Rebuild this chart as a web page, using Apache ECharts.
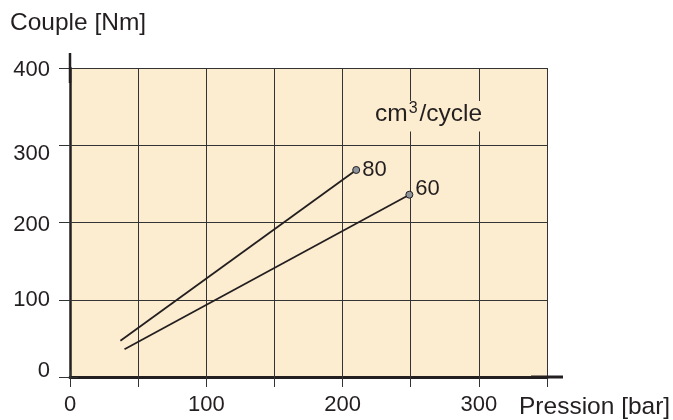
<!DOCTYPE html>
<html><head><meta charset="utf-8">
<script src="https://cdn.jsdelivr.net/npm/echarts@6/dist/echarts.min.js"></script>
<style>html,body{margin:0;padding:0;background:#fff}#c{width:673px;height:420px}</style>
</head>
<body><div id="c"></div>
<script>
// ---- data ----
const xLabels = [0, 100, 200, 300];
const yLabels = [0, 100, 200, 300, 400];
const line80 = [[37, 47], [210, 268]];
const line60 = [[40, 36], [249, 236]];
const lineNames = ['80', '60'];
const unitBase = 'cm';
const unitSup = '3';
const unitTail = '/cycle';
const xTitle = 'Pression [bar]';
const yTitle = 'Couple [Nm]';

// ---- style ----
const INK = '#231f20';
const GRIDC = '#333333';
const FILL = '#fdedd0';
const FONT = 'Liberation Sans';
const FS = 22;
const TFS = 24.5;
const yLabelShift = {0: -6, 100: 0, 200: 2, 300: 9, 400: 2};

const rich = {};
yLabels.forEach(v => {
  const s = yLabelShift[v] || 0;
  rich['s' + v] = {
    fontFamily: FONT, fontSize: FS, color: INK,
    padding: s >= 0 ? [2 * s, 0, 0, 0] : [0, 0, -2 * s, 0]
  };
});

function mkSeries(name, pts, labelOffset) {
  return {
    type: 'line', name: name,
    data: pts.map((p, i) => i === pts.length - 1
      ? {value: p, symbol: 'circle', symbolSize: 7,
         label: {show: true, formatter: name, position: 'right', distance: 2, offset: labelOffset,
                 fontFamily: FONT, fontSize: FS, color: INK}}
      : {value: p, symbol: 'none'}),
    showSymbol: true,
    lineStyle: {color: INK, width: 1.8},
    itemStyle: {color: '#8e949c', borderColor: INK, borderWidth: 1},
    z: 5, silent: true, animation: false
  };
}

const chart = echarts.init(document.getElementById('c'), null, {renderer: 'canvas'});
chart.setOption({
  animation: false,
  backgroundColor: '#ffffff',
  title: [
    {text: yTitle, left: 10, top: 11, padding: 0,
     textStyle: {fontFamily: FONT, fontSize: TFS, fontWeight: 'normal', color: INK}},
    {text: xTitle, left: 519, top: 395, padding: 0,
     textStyle: {fontFamily: FONT, fontSize: TFS, fontWeight: 'normal', color: INK}},
    {text: '{b|' + unitBase + '}{u|' + unitSup + '}{b|' + unitTail + '}', left: 369, top: 101, padding: [0, 6, 5, 6],
     backgroundColor: FILL,
     textStyle: {fontFamily: FONT, fontSize: TFS, fontWeight: 'normal', color: INK,
       rich: {
         b: {fontFamily: FONT, fontSize: TFS, color: INK, lineHeight: 26},
         u: {fontFamily: FONT, fontSize: 16, color: INK, verticalAlign: 'top', lineHeight: 12, padding: [0, 2, 0, 1]}
       }}}
  ],
  grid: {left: 70, right: 126, top: 68, bottom: 43, show: true, backgroundColor: FILL, borderWidth: 0},
  xAxis: [
    {type: 'value', min: 0, max: 350, interval: 50, position: 'bottom',
     axisLine: {show: true, lineStyle: {color: INK, width: 3}, symbol: ['none', 'rect'], symbolSize: [3, 32]},
     axisTick: {show: true, length: 10, lineStyle: {color: GRIDC, width: 1}},
     axisLabel: {margin: 17, fontFamily: FONT, fontSize: FS, color: INK,
                 formatter: v => xLabels.indexOf(v) >= 0 ? String(v) : ''},
     splitLine: {show: true, lineStyle: {color: GRIDC, width: 1}}},
    {type: 'value', min: 0, max: 350, interval: 50, position: 'top',
     axisLine: {show: false}, axisLabel: {show: false}, splitLine: {show: false},
     axisTick: {show: true, length: 7, lineStyle: {color: GRIDC, width: 1}}}
  ],
  yAxis: [
    {type: 'value', min: 0, max: 400, interval: 100, position: 'left',
     axisLine: {show: true, lineStyle: {color: INK, width: 2.5}, symbol: ['none', 'rect'], symbolSize: [2.5, 30]},
     axisTick: {show: true, length: 11, lineStyle: {color: GRIDC, width: 1}},
     axisLabel: {margin: 20, fontFamily: FONT, fontSize: FS, color: INK, rich: rich,
                 formatter: v => yLabels.indexOf(v) >= 0 ? '{s' + v + '|' + v + '}' : ''},
     splitLine: {show: true, lineStyle: {color: GRIDC, width: 1}}},
    {type: 'value', min: 0, max: 400, interval: 100, position: 'right',
     axisLine: {show: false}, axisLabel: {show: false}, splitLine: {show: false},
     axisTick: {show: true, length: 8, lineStyle: {color: GRIDC, width: 1}}}
  ],
  series: [
    mkSeries(lineNames[0], line80, [0, 0]),
    mkSeries(lineNames[1], line60, [0, -6])
  ]
});
</script>
</body></html>
